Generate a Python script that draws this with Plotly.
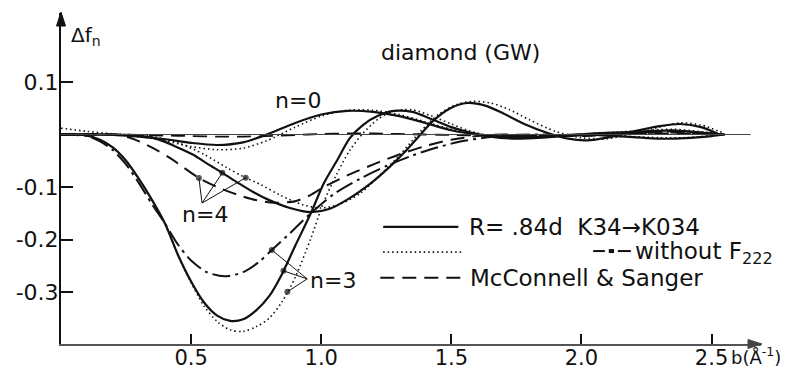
import numpy as np
import plotly.graph_objects as go

# ---- data: Δf_n versus b (Å^-1) for diamond (GW) ----
# n = 0
b_n0 = [0, 0.1, 0.2, 0.3, 0.4, 0.5, 0.6, 0.7, 0.79, 0.9, 1.0, 1.1, 1.2, 1.3, 1.4, 1.5,
        1.6, 1.7, 1.8, 1.9, 2.0, 2.1, 2.2, 2.3, 2.4, 2.5, 2.55]
n0_solid = [0, 0, -0.001, -0.004, -0.009, -0.016, -0.02, -0.015, 0.0, 0.022, 0.038, 0.045,
            0.043, 0.035, 0.022, 0.008, 0.0, -0.004, -0.005, -0.003, 0.0, -0.002, -0.005,
            -0.008, -0.007, -0.003, 0.0]
n0_dotted = [0.012, 0.006, 0.001, -0.004, -0.012, -0.023, -0.029, -0.026, -0.012, 0.014,
             0.035, 0.046, 0.046, 0.038, 0.024, 0.01, 0.001, -0.004, -0.006, -0.003, 0.0,
             -0.002, -0.004, -0.006, -0.006, -0.002, 0.0]
n0_dashed = [0, 0, 0, -0.001, -0.002, -0.003, -0.004, -0.004, -0.003, -0.001, 0.001, 0.002,
             0.002, 0.001, 0.0, -0.001, -0.002, -0.002, -0.002, -0.001, 0.0, 0.0, 0.001,
             0.002, 0.002, 0.001, 0.0]

# n = 3
b_n3 = [0, 0.1, 0.15, 0.2, 0.25, 0.3, 0.35, 0.4, 0.45, 0.5, 0.55, 0.6, 0.65, 0.7, 0.75,
        0.8, 0.85, 0.9, 0.96, 1.01, 1.06, 1.11, 1.16, 1.22, 1.28, 1.35, 1.42, 1.5, 1.57,
        1.65, 1.75, 1.85, 1.95, 2.05, 2.15, 2.25, 2.35, 2.45, 2.55]
n3_solid = [0, -0.002, -0.01, -0.025, -0.05, -0.085, -0.125, -0.17, -0.23, -0.28, -0.32,
            -0.345, -0.355, -0.352, -0.335, -0.308, -0.265, -0.212, -0.15, -0.093, -0.05,
            -0.007, 0.018, 0.036, 0.045, 0.043, 0.03, 0.014, 0.004, -0.004, -0.008, -0.006,
            -0.002, 0.002, 0.004, 0.006, 0.008, 0.004, 0.0]
n3_dotted = [0, -0.002, -0.01, -0.025, -0.05, -0.085, -0.125, -0.17, -0.23, -0.282, -0.327,
             -0.356, -0.372, -0.375, -0.366, -0.35, -0.318, -0.272, -0.198, -0.128, -0.075,
             -0.03, 0.002, 0.03, 0.045, 0.047, 0.036, 0.02, 0.007, -0.003, -0.007, -0.006,
             -0.002, 0.002, 0.005, 0.008, 0.01, 0.006, 0.0]
b_n3dd = [0, 0.1, 0.15, 0.2, 0.25, 0.3, 0.35, 0.4, 0.45, 0.5, 0.56, 0.63, 0.7, 0.76, 0.81,
          0.88, 0.96, 1.05, 1.15, 1.25, 1.35, 1.45, 1.55, 1.65, 1.8, 2.0, 2.2, 2.35, 2.5]
n3_dashdot = [0, -0.003, -0.013, -0.03, -0.057, -0.093, -0.133, -0.17, -0.21, -0.24, -0.262,
              -0.27, -0.262, -0.243, -0.22, -0.188, -0.15, -0.113, -0.084, -0.06, -0.04,
              -0.024, -0.012, -0.005, 0.0, -0.002, 0.003, 0.006, 0.002]

# n = 4
b_n4 = [0, 0.2, 0.3, 0.35, 0.4, 0.45, 0.51, 0.56, 0.62, 0.68, 0.74, 0.8, 0.88, 0.96, 1.03,
        1.1, 1.19, 1.26, 1.32, 1.36, 1.43, 1.5, 1.56, 1.63, 1.7, 1.78, 1.87, 1.95, 2.02,
        2.1, 2.2, 2.3, 2.38, 2.46, 2.53]
n4_solid = [0, 0, -0.002, -0.006, -0.014, -0.025, -0.039, -0.055, -0.073, -0.092, -0.11,
            -0.125, -0.14, -0.148, -0.142, -0.124, -0.093, -0.063, -0.034, -0.012, 0.026,
            0.051, 0.06, 0.055, 0.04, 0.02, 0.003, -0.008, -0.011, -0.006, 0.006, 0.016,
            0.02, 0.014, 0.0]
b_n4dot = [0, 0.25, 0.35, 0.45, 0.55, 0.64, 0.7, 0.77, 0.84, 0.93, 1.0, 1.07, 1.15, 1.22,
           1.3, 1.38, 1.45, 1.52, 1.58, 1.65, 1.72, 1.8, 1.9, 2.0, 2.1, 2.2, 2.3, 2.38,
           2.46, 2.55]
n4_dotted = [0, 0, -0.004, -0.016, -0.038, -0.064, -0.08, -0.096, -0.115, -0.134, -0.14,
             -0.133, -0.112, -0.08, -0.04, 0.005, 0.038, 0.057, 0.063, 0.06, 0.048, 0.028,
             0.006, -0.006, -0.008, 0.002, 0.014, 0.022, 0.018, 0.002]
b_n4ms = [0, 0.2, 0.27, 0.35, 0.42, 0.53, 0.6, 0.68, 0.75, 0.82, 0.9, 0.96, 1.01, 1.1, 1.21,
          1.3, 1.4, 1.5, 1.6, 1.7, 1.85, 2.0, 2.2, 2.35, 2.5]
n4_dashed = [0, 0, -0.007, -0.025, -0.045, -0.083, -0.1, -0.115, -0.125, -0.13, -0.127,
             -0.115, -0.1, -0.078, -0.055, -0.038, -0.022, -0.01, -0.003, 0.0, -0.002,
             -0.003, 0.002, 0.004, 0.0]

# axis ticks
y_ticks = [0.1, -0.1, -0.2, -0.3]
y_ticklabels = ["0.1", "-0.1", "-0.2", "-0.3"]
x_ticks = [0.5, 1.0, 1.5, 2.0, 2.5]
x_ticklabels = ["0.5", "1.0", "1.5", "2.0", "2.5"]

X_RANGE = [0, 2.69]
Y_RANGE = [-0.399, 0.2314]

W, H = 788, 370
MARGIN = dict(l=61, r=27, t=13, b=26)
PW = W - MARGIN["l"] - MARGIN["r"]   # plot-area width in px
PH = H - MARGIN["t"] - MARGIN["b"]   # plot-area height in px

FONT = "DejaVu Sans"
INK = "#111111"

DASHED = "14px,8px"
DASHDOT = "18px,5px,3px,5px"
DOTTED = "1.5px,3px"

fig = go.Figure()


def curve(x, y, dash, width):
    fig.add_trace(go.Scatter(
        x=x, y=y, mode="lines", showlegend=False, hoverinfo="skip",
        line=dict(color=INK, width=width, dash=dash, shape="spline", smoothing=0.8)))


# zero reference line
fig.add_shape(type="line", xref="x", yref="y", x0=0, x1=2.65, y0=0, y1=0,
              line=dict(color="#444444", width=1))

curve(b_n0, n0_dashed, DASHED, 1.8)
curve(b_n0, n0_dotted, DOTTED, 1.6)
curve(b_n0, n0_solid, "solid", 2.2)

curve(b_n3, n3_dotted, DOTTED, 1.6)
curve(b_n3dd, n3_dashdot, DASHDOT, 2.0)
curve(b_n3, n3_solid, "solid", 2.2)

curve(b_n4dot, n4_dotted, DOTTED, 1.6)
curve(b_n4ms, n4_dashed, DASHED, 2.0)
curve(b_n4, n4_solid, "solid", 2.2)


# pointer lines from the n labels to the curves, ending in a dot
def pointer(base, targets):
    for bx, xs, ys in targets:
        ty = float(np.interp(bx, xs, ys))
        fig.add_trace(go.Scatter(
            x=[base[0], bx], y=[base[1], ty], mode="lines+markers", showlegend=False,
            hoverinfo="skip", line=dict(color=INK, width=1),
            marker=dict(size=[0, 6], color=INK, line=dict(width=0))))


pointer((0.542, -0.1305), [(0.53, b_n4ms, n4_dashed),
                           (0.62, b_n4, n4_solid),
                           (0.71, b_n4dot, n4_dotted)])
pointer((0.946, -0.275), [(0.81, b_n3dd, n3_dashdot),
                          (0.855, b_n3, n3_solid),
                          (0.87, b_n3, n3_dotted)])

# arrowheads at the ends of both axes (paper coordinates, sized in px)
ax_, ay_ = 4.5 / PW, 13 / PH
fig.add_shape(type="path", xref="paper", yref="paper",
              path=f"M {-ax_} {1 - ay_} L 0 {1 + 1 / PH} L {ax_} {1 - ay_} Z",
              fillcolor=INK, line=dict(color=INK, width=1))
bx_, by_ = 13 / PW, 4.5 / PH
fig.add_shape(type="path", xref="paper", yref="paper",
              path=f"M {1 - bx_} {-by_} L {1 + 1 / PW} 0 L {1 - bx_} {by_} Z",
              fillcolor="#444444", line=dict(color="#444444", width=1))

# labels
txt = dict(font=dict(family=FONT, size=22, color=INK), showarrow=False)
legtxt = dict(font=dict(family=FONT, size=23, color=INK), showarrow=False)
fig.add_annotation(x=0.91, y=0.064, xref="x", yref="y", text="n=0", **txt)
fig.add_annotation(x=0.554, y=-0.153, xref="x", yref="y", text="n=4", **txt)
fig.add_annotation(x=1.046, y=-0.279, xref="x", yref="y", text="n=3", **txt)
fig.add_annotation(x=1.535, y=0.157, xref="x", yref="y", text="diamond (GW)", **txt)
fig.add_annotation(x=0.03, y=0.188, xref="x", yref="y", text="Δf<sub>n</sub>",
                   xanchor="left", font=dict(family=FONT, size=20, color=INK),
                   showarrow=False)
fig.add_annotation(x=2.568, y=0, xref="x", yref="paper", yanchor="middle", xanchor="left",
                   yshift=-12, text="b(Å<sup>-1</sup>)",
                   font=dict(family=FONT, size=18, color=INK), showarrow=False)

# legend keys
leg = [(-0.176, "solid", 2.2, 1.238, 1.527), (-0.224, DOTTED, 1.6, 1.238, 1.54),
       (-0.273, DASHED, 2.0, 1.227, 1.54)]
for ly, dash, w, x0, x1 in leg:
    fig.add_shape(type="line", xref="x", yref="y", x0=x0, x1=x1, y0=ly, y1=ly,
                  line=dict(color=INK, width=w, dash=dash))
# dash-dot key: dash, dot, dash
fig.add_shape(type="line", xref="x", yref="y", x0=2.045, x1=2.09, y0=-0.222, y1=-0.222,
              line=dict(color=INK, width=2))
fig.add_shape(type="line", xref="x", yref="y", x0=2.105, x1=2.125, y0=-0.222, y1=-0.222,
              line=dict(color=INK, width=4))
fig.add_shape(type="line", xref="x", yref="y", x0=2.14, x1=2.19, y0=-0.222, y1=-0.222,
              line=dict(color=INK, width=2))
fig.add_annotation(x=1.56, y=-0.176, xref="x", yref="y", xanchor="left",
                   text="R= .84d  K34\u2192K034", **legtxt)
fig.add_annotation(x=2.2, y=-0.226, xref="x", yref="y", xanchor="left",
                   text="without F<sub>222</sub>", **legtxt)
fig.add_annotation(x=1.565, y=-0.273, xref="x", yref="y", xanchor="left",
                   text="McConnell &amp; Sanger", **legtxt)

fig.update_xaxes(range=X_RANGE, automargin=False, showgrid=False, zeroline=False,
                 showline=True, linecolor="#555555", linewidth=2, ticks="inside",
                 ticklen=10, tickwidth=1.5, tickcolor=INK, tickvals=x_ticks,
                 ticktext=x_ticklabels, ticklabelstandoff=-6,
                 tickfont=dict(family=FONT, size=21, color=INK))
fig.update_yaxes(range=Y_RANGE, automargin=False, showgrid=False, zeroline=False,
                 showline=True, linecolor=INK, linewidth=2, ticks="inside", ticklen=12,
                 tickwidth=1.5, tickcolor=INK, tickvals=y_ticks, ticktext=y_ticklabels,
                 ticklabelstandoff=-4, tickfont=dict(family=FONT, size=22, color=INK))

fig.update_layout(width=W, height=H, margin=MARGIN,
                  paper_bgcolor="white", plot_bgcolor="white", showlegend=False)

fig.write_html("out.html")
